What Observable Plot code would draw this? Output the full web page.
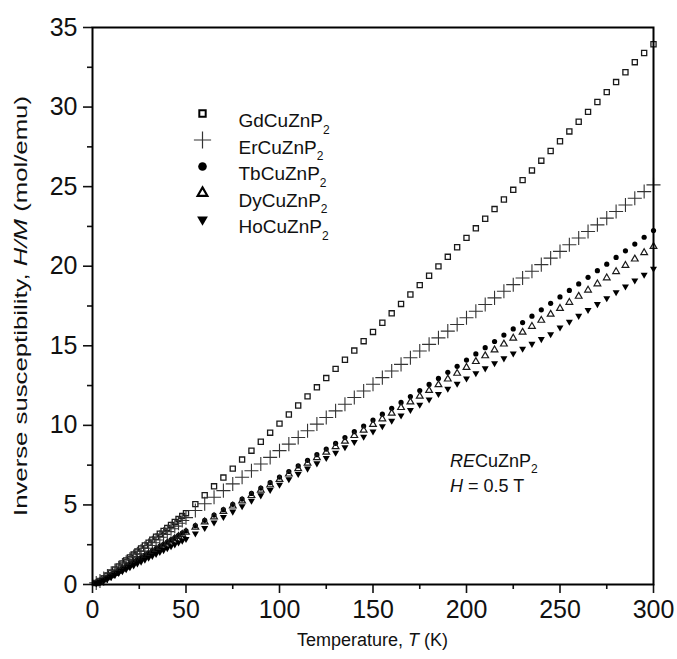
<!DOCTYPE html>
<html>
<head>
<meta charset="utf-8">
<script src="https://cdn.jsdelivr.net/npm/d3@7"></script>
<script src="https://cdn.jsdelivr.net/npm/@observablehq/plot@0.6"></script>
<style>
  html, body { margin: 0; padding: 0; background: #fff; }
  #chart { width: 677px; height: 659px; }
</style>
</head>
<body>
<div id="chart"></div>
<script>
// ---- Data ----
const tLow = [2,4,6,8,10,12,14,16,18,20,22,24,26,28,30,32,34,36,38,40,42,44,46,48,50];
const tHigh = [55,60,65,70,75,80,85,90,95,100,105,110,115,120,125,130,135,140,145,150,155,160,165,170,175,180,185,190,195,200,205,210,215,220,225,230,235,240,245,250,255,260,265,270,275,280,285,290,295,300];

const gdLow = [0.10,0.22,0.38,0.56,0.75,0.94,1.13,1.32,1.51,1.70,1.88,2.07,2.26,2.45,2.63,2.82,3.00,3.19,3.37,3.56,3.74,3.93,4.11,4.30,4.48];
const gdHigh = [5.05,5.61,6.17,6.72,7.28,7.85,8.41,8.97,9.54,10.11,10.68,11.25,11.82,12.39,12.97,13.55,14.12,14.70,15.29,15.87,16.45,17.04,17.63,18.22,18.81,19.40,19.99,20.59,21.19,21.78,22.38,22.98,23.59,24.19,24.80,25.41,26.02,26.63,27.24,27.85,28.47,29.08,29.70,30.32,30.94,31.57,32.19,32.82,33.40,33.95];

const erLow = [0.10,0.22,0.37,0.54,0.71,0.88,1.05,1.23,1.40,1.58,1.75,1.93,2.10,2.28,2.45,2.62,2.80,2.97,3.15,3.32,3.50,3.67,3.85,4.02,4.20];
const erHigh = [4.65,5.07,5.48,5.90,6.32,6.74,7.15,7.57,7.99,8.41,8.82,9.24,9.66,10.08,10.49,10.91,11.33,11.75,12.16,12.58,13.00,13.42,13.83,14.25,14.67,15.09,15.50,15.92,16.34,16.76,17.17,17.59,18.01,18.43,18.84,19.26,19.68,20.10,20.51,20.93,21.35,21.77,22.18,22.60,23.02,23.44,23.85,24.27,24.69,25.11];

const tbLow = [0.08,0.18,0.30,0.43,0.57,0.71,0.85,0.99,1.13,1.27,1.41,1.55,1.69,1.83,1.97,2.11,2.25,2.39,2.53,2.67,2.81,2.95,3.09,3.23,3.37];
const tbHigh = [3.70,4.03,4.36,4.70,5.04,5.37,5.72,6.06,6.40,6.75,7.10,7.45,7.80,8.16,8.51,8.87,9.23,9.60,9.96,10.33,10.70,11.07,11.44,11.81,12.19,12.57,12.95,13.33,13.71,14.10,14.49,14.88,15.27,15.67,16.06,16.46,16.86,17.26,17.67,18.07,18.48,18.89,19.30,19.72,20.13,20.55,20.97,21.39,21.82,22.24];

const dyLow = [0.08,0.17,0.29,0.42,0.55,0.69,0.83,0.97,1.10,1.24,1.38,1.51,1.65,1.79,1.92,2.06,2.20,2.33,2.47,2.61,2.74,2.88,3.02,3.15,3.29];
const dyHigh = [3.60,3.93,4.25,4.59,4.93,5.25,5.59,5.93,6.26,6.60,6.94,7.28,7.62,7.97,8.31,8.66,9.00,9.36,9.70,10.06,10.41,10.76,11.12,11.47,11.83,12.19,12.55,12.91,13.27,13.64,14.01,14.37,14.74,15.11,15.48,15.85,16.22,16.60,16.98,17.35,17.73,18.11,18.50,18.89,19.27,19.66,20.05,20.45,20.85,21.24];

const hoLow = [0.07,0.15,0.25,0.36,0.48,0.60,0.72,0.84,0.96,1.08,1.20,1.32,1.44,1.56,1.68,1.80,1.92,2.04,2.16,2.28,2.40,2.52,2.64,2.75,2.86];
const hoHigh = [3.20,3.55,3.90,4.24,4.58,4.92,5.26,5.60,5.94,6.27,6.61,6.94,7.28,7.61,7.95,8.28,8.62,8.95,9.28,9.62,9.95,10.29,10.62,10.96,11.29,11.63,11.97,12.30,12.62,12.95,13.27,13.58,13.90,14.21,14.52,14.82,15.12,15.42,15.72,16.15,16.51,16.88,17.25,17.62,17.99,18.36,18.73,19.10,19.47,19.84];

const seriesNames = ["GdCuZnP₂","ErCuZnP₂","TbCuZnP₂","DyCuZnP₂","HoCuZnP₂"];
const xTicks = [0,50,100,150,200,250,300];
const xMinor = [25,75,125,175,225,275];
const yTicks = [0,5,10,15,20,25,30,35];
const yMinor = [2.5,7.5,12.5,17.5,22.5,27.5,32.5];

// ---- Build table ----
const allT = tLow.concat(tHigh);
const seriesVals = [
  gdLow.concat(gdHigh), erLow.concat(erHigh), tbLow.concat(tbHigh),
  dyLow.concat(dyHigh), hoLow.concat(hoHigh)
];
const tables = seriesVals.map(vals => allT.map((t, i) => ({T: t, v: vals[i]})));

// marker styles per series (data plot)
const styles = [
  {symbol: "square",   r: 2.9, fill: "none",  stroke: "#1a1a1a", strokeWidth: 1.3, rotate: 0},
  {symbol: "plus",     r: 4.6, fill: "none",  stroke: "#333",    strokeWidth: 1.1, rotate: 0},
  {symbol: "circle",   r: 2.6, fill: "#000",  stroke: "none",    strokeWidth: 0,   rotate: 0},
  {symbol: "triangle", r: 2.5, fill: "none",  stroke: "#1a1a1a", strokeWidth: 1.2, rotate: 0},
  {symbol: "triangle", r: 2.6, fill: "#000",  stroke: "none",    strokeWidth: 0,   rotate: 180}
];
// legend marker styles
const legendStyles = [
  {symbol: "square",   r: 3.6, fill: "none", stroke: "#000", strokeWidth: 2},
  {symbol: "plus",     r: 5.6, fill: "none", stroke: "#333", strokeWidth: 1.2},
  {symbol: "circle",   r: 4.3, fill: "#000", stroke: "none", strokeWidth: 0},
  {symbol: "triangle", r: 3.6, fill: "none", stroke: "#000", strokeWidth: 2.2},
  {symbol: "triangle", r: 4.0, fill: "#000", stroke: "none", strokeWidth: 0}
];

const FONT = "'Liberation Sans', Arial, Helvetica, sans-serif";
const legendX = 110, legendY0 = 86, legendStep = 26.5, legendTextX = 146;

const marks = [];
tables.forEach((tab, i) => {
  const s = styles[i];
  marks.push(Plot.dot(tab, {x: "T", y: "v", symbol: s.symbol, r: s.r, fill: s.fill,
    stroke: s.stroke, strokeWidth: s.strokeWidth, rotate: s.rotate}));
});
seriesNames.forEach((name, i) => {
  const s = legendStyles[i];
  marks.push(Plot.dot([name], {frameAnchor: "top-left", dx: legendX, dy: legendY0 + i * legendStep,
    symbol: s.symbol, r: s.r, fill: s.fill, stroke: s.stroke, strokeWidth: s.strokeWidth,
    rotate: i === 4 ? 180 : 0}));
  marks.push(Plot.text([name], {frameAnchor: "top-left", dx: legendTextX, dy: legendY0 + i * legendStep,
    text: d => d, textAnchor: "start", fontSize: 19, fill: "#111"}));
});

marks.push(
  Plot.axisX({ticks: xTicks, tickSize: 9, tickPadding: 7, fontSize: 25, label: null, strokeWidth: 1.6, color: "#111"}),
  Plot.axisX({ticks: xMinor, tickSize: 5, tickFormat: () => "", label: null, strokeWidth: 1.6}),
  Plot.axisY({ticks: yTicks, tickSize: 9, tickPadding: 6, fontSize: 25, label: null, strokeWidth: 1.6, color: "#111"}),
  Plot.axisY({ticks: yMinor, tickSize: 5, tickFormat: () => "", label: null, strokeWidth: 1.6}),
  Plot.frame({stroke: "#000", strokeWidth: 2})
);

const chart = Plot.plot({
  width: 677, height: 659,
  marginLeft: 92, marginRight: 24, marginTop: 27, marginBottom: 75,
  x: {domain: [0, 300]},
  y: {domain: [0, 35]},
  style: {fontFamily: FONT, background: "#fff", color: "#111", overflow: "visible"},
  marks
});

// ---- subscript handling for legend labels ----
const svg = d3.select(chart);
svg.selectAll("text").each(function() {
  const txt = this.textContent;
  if (txt.includes("₂") && this.childElementCount === 0) {
    const el = d3.select(this);
    el.text(null);
    el.append("tspan").text(txt.replace("₂", ""));
    el.append("tspan").attr("dy", "0.55em").attr("font-size", 12).text("2");
  }
});

function addRich(parent, parts, attrs) {
  const t = parent.append("text");
  Object.entries(attrs).forEach(([k, v]) => t.attr(k, v));
  parts.forEach(p => {
    const ts = t.append("tspan").text(p.t);
    if (p.i) ts.attr("font-style", "italic");
    if (p.sub) ts.attr("dy", p.sub).attr("font-size", p.fs || 12);
  });
  return t;
}
const g = svg.append("g").attr("font-family", FONT).attr("fill", "#111");
// annotation
addRich(g, [{t: "RE", i: true}, {t: "CuZnP"}, {t: "2", sub: "0.5em", fs: 12}],
  {x: 450, y: 467, "font-size": 18, "text-anchor": "start"});
addRich(g, [{t: "H", i: true}, {t: " = 0.5 T"}], {x: 450, y: 492, "font-size": 18, "text-anchor": "start"});
// x axis title
addRich(g, [{t: "Temperature, "}, {t: "T", i: true}, {t: " (K)"}],
  {x: 372.5, y: 646, "font-size": 18, "text-anchor": "middle"});
// y axis title
addRich(g, [{t: "Inverse susceptibility, "}, {t: "H/M", i: true}, {t: " (mol/emu)"}],
  {transform: "translate(27,306) rotate(-90)", "font-size": 19, "text-anchor": "middle",
   textLength: 420, lengthAdjust: "spacingAndGlyphs"});

document.getElementById("chart").appendChild(chart);
</script>
</body>
</html>
